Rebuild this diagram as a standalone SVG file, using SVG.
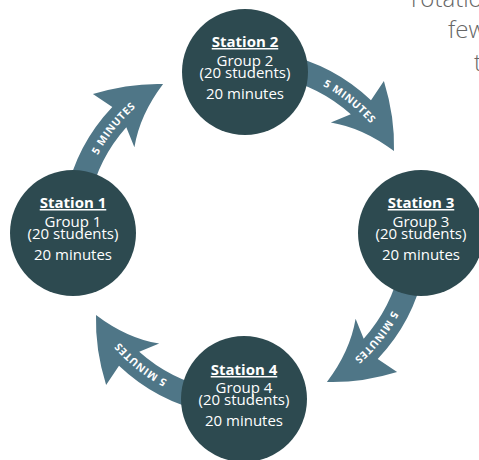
<svg xmlns="http://www.w3.org/2000/svg" xmlns:xlink="http://www.w3.org/1999/xlink" width="479" height="460" viewBox="0 0 479 460">
  <style>
    .arrow { fill: #4f7687; }
    .alabel { fill: #ffffff; font-family: "Open Sans", "DejaVu Sans", sans-serif; font-weight: 700; font-size: 10.5px; letter-spacing: 0.6px; }
    .station { fill: #2d4a50; }
    .t { fill: #ffffff; font-family: "Open Sans", "DejaVu Sans", sans-serif; font-size: 15px; text-anchor: middle; }
    .tb { font-weight: 700; text-decoration: underline; }
    .side { fill: #666666; font-family: "Open Sans", "DejaVu Sans", sans-serif; font-weight: 300; font-size: 24px; }
  </style>
  <defs>
    <path id="labelArc" d="M87.1,180.2 A166.5,166.5 0 0 1 158.0,91.0"/>
    <g id="arrowShape">
      <path class="arrow" d="M66.0,194.95 A183,183 0 0 1 112.3,107.0 L92.9,94.1 Q129,83 163.1,84.0 Q139.85,114.6 134.4,147.2 L126.3,127.2 A159,159 0 0 0 89.5,199.9 Z"/>
      <text class="alabel"><textPath href="#labelArc" xlink:href="#labelArc" startOffset="50%" text-anchor="middle">5 MINUTES</textPath></text>
    </g>
  </defs>

  <g id="background-text">
    <text class="side" x="411" y="7">rotatio</text>
    <text class="side" x="448" y="38">few</text>
    <text class="side" x="474" y="71">t</text>
  </g>

  <g id="connectors">
    <use id="arrow-1-2" href="#arrowShape" xlink:href="#arrowShape"/>
    <use id="arrow-2-3" href="#arrowShape" xlink:href="#arrowShape" transform="rotate(90 245 233)"/>
    <use id="arrow-3-4" href="#arrowShape" xlink:href="#arrowShape" transform="rotate(180 245 233)"/>
    <use id="arrow-4-1" href="#arrowShape" xlink:href="#arrowShape" transform="rotate(270 245 233)"/>
  </g>

  <g id="station-1">
    <circle class="station" cx="73" cy="233" r="63"/>
    <text class="t tb" x="73" y="208">Station 1</text>
    <text class="t" x="73" y="227">Group 1</text>
    <text class="t" x="73" y="239">(20 students)</text>
    <text class="t" x="73" y="260">20 minutes</text>
  </g>
  <g id="station-2">
    <circle class="station" cx="245" cy="72" r="63"/>
    <text class="t tb" x="245" y="47">Station 2</text>
    <text class="t" x="245" y="66">Group 2</text>
    <text class="t" x="245" y="78">(20 students)</text>
    <text class="t" x="245" y="99">20 minutes</text>
  </g>
  <g id="station-3">
    <circle class="station" cx="421" cy="233" r="63"/>
    <text class="t tb" x="421" y="208">Station 3</text>
    <text class="t" x="421" y="227">Group 3</text>
    <text class="t" x="421" y="239">(20 students)</text>
    <text class="t" x="421" y="260">20 minutes</text>
  </g>
  <g id="station-4">
    <circle class="station" cx="244" cy="399" r="63"/>
    <text class="t tb" x="244" y="375">Station 4</text>
    <text class="t" x="244" y="393">Group 4</text>
    <text class="t" x="244" y="405">(20 students)</text>
    <text class="t" x="244" y="426">20 minutes</text>
  </g>
</svg>
